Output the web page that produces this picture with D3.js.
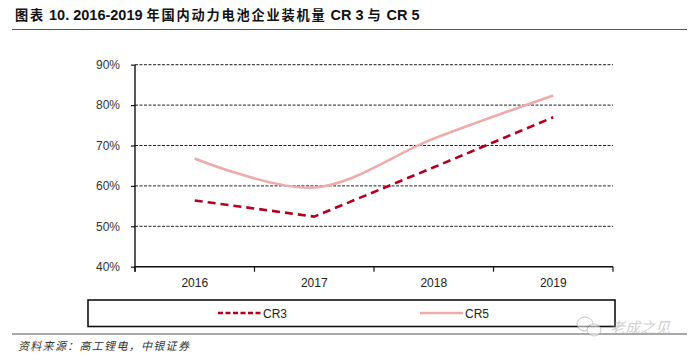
<!DOCTYPE html>
<html><head><meta charset="utf-8">
<script src="https://cdn.jsdelivr.net/npm/d3@7"></script>
<style>body{margin:0;background:#fff}svg{display:block}</style>
</head><body>
<svg id="c" width="700" height="359"></svg>
<script>
const categories = ["2016", "2017", "2018", "2019"];
const cr3 = [56.4, 52.4, 64.6, 77.0];
const cr5 = [66.8, 59.6, 71.7, 82.4];
const yTicks = [40, 50, 60, 70, 80, 90];
const seriesNames = ["CR3", "CR5"];
const titleParts = [["图表", 0], [" 10. 2016-2019 ", 1], ["年国内动力电池企业装机量", 0], [" CR 3 ", 1], ["与", 0], [" CR 5", 1]];
const sourceText = "资料来源：高工锂电，中银证券";

const svg = d3.select("#c");
const L = 135, R = 613, T = 64.7, B = 266.7;
const x = d3.scaleBand().domain(categories).range([L, R]);
const y = d3.scaleLinear().domain([40, 90]).range([B, T]);
const font = "'Liberation Sans', Arial, sans-serif";
const cjk = "'Noto Sans CJK SC', sans-serif";

// title
const tt = svg.append("text").attr("x", 15).attr("y", 20).attr("font-weight", "bold").attr("fill", "#111");
titleParts.forEach(([s, latin]) => {
  tt.append("tspan").attr("font-family", latin ? "'Liberation Sans Narrow', 'Liberation Sans', sans-serif" : cjk)
    .attr("font-size", latin ? 14.5 : 13.2).attr("letter-spacing", latin ? 0 : 1.8)
    .style("white-space", "pre").text(s);
});
svg.append("line").attr("x1", 12).attr("x2", 687).attr("y1", 29.5).attr("y2", 29.5).attr("stroke", "#555").attr("stroke-width", 1.2);

// gridlines
svg.append("g").selectAll("line").data(yTicks.filter(d => d > 40)).join("line")
  .attr("x1", L).attr("x2", R).attr("y1", d => y(d)).attr("y2", d => y(d))
  .attr("stroke", "#222").attr("stroke-width", 1).attr("stroke-dasharray", "3,1.5");

// y axis
const ya = svg.append("g").attr("transform", `translate(${L},0)`)
  .call(d3.axisLeft(y).tickValues(yTicks).tickFormat(d => d + "%").tickSize(4).tickPadding(11));
ya.select(".domain").attr("d", `M0,${T}V${B + 5}`).attr("stroke", "#111").attr("stroke-width", 1.4);
ya.selectAll(".tick line").attr("stroke", "#111").attr("stroke-width", 1.2);
ya.selectAll("text").attr("font-family", font).attr("font-size", 12).attr("fill", "#333");

// x axis
const xa = svg.append("g").attr("transform", `translate(0,${B})`)
  .call(d3.axisBottom(x).tickSize(0).tickPadding(12));
xa.select(".domain").attr("d", `M${L},0H${R}`).attr("stroke", "#111").attr("stroke-width", 1.4);
xa.selectAll("text").attr("font-family", font).attr("font-size", 12).attr("fill", "#222");
const bounds = categories.map(c => x(c)).concat([R]);
xa.append("g").selectAll("line").data(bounds).join("line")
  .attr("x1", d => d).attr("x2", d => d).attr("y1", 0).attr("y2", 5)
  .attr("stroke", "#111").attr("stroke-width", 1.2);

const cx = c => x(c) + x.bandwidth() / 2;
// CR5 smooth
svg.append("path").datum(cr5).attr("fill", "none").attr("stroke", "#EFAAAA").attr("stroke-width", 2.6)
  .attr("d", d3.line().x((d, i) => cx(categories[i])).y(d => y(d)).curve(d3.curveCatmullRom.alpha(0.5)));
// CR3 dashed
svg.append("path").datum(cr3).attr("fill", "none").attr("stroke", "#B2001E").attr("stroke-width", 2.6)
  .attr("stroke-dasharray", "8,5")
  .attr("d", d3.line().x((d, i) => cx(categories[i])).y(d => y(d)));

// legend
svg.append("rect").attr("x", 88).attr("y", 300).attr("width", 527).attr("height", 26.5)
  .attr("fill", "none").attr("stroke", "#111").attr("stroke-width", 1.6);
const leg = [{x1: 218, name: seriesNames[0], color: "#B2001E", dash: "5,2.5"},
             {x1: 420, name: seriesNames[1], color: "#EFAAAA", dash: null}];
leg.forEach(l => {
  svg.append("line").attr("x1", l.x1).attr("x2", l.x1 + 43).attr("y1", 313).attr("y2", 313)
    .attr("stroke", l.color).attr("stroke-width", 2.6).attr("stroke-dasharray", l.dash);
  svg.append("text").attr("x", l.x1 + 45).attr("y", 317.5).attr("font-family", font).attr("font-size", 12)
    .attr("fill", "#222").text(l.name);
});

// bottom rule and source
svg.append("line").attr("x1", 12).attr("x2", 687).attr("y1", 334).attr("y2", 334).attr("stroke", "#555").attr("stroke-width", 1.2);
svg.append("text").attr("x", 18).attr("y", 350).attr("font-family", cjk)
  .attr("font-style", "italic").attr("font-size", 11).attr("letter-spacing", 1.3).attr("fill", "#333").text(sourceText);

// watermark
const wm = svg.append("g").attr("opacity", 0.55);
wm.append("ellipse").attr("cx", 585).attr("cy", 324).attr("rx", 8).attr("ry", 7).attr("fill", "#fff").attr("stroke", "#999");
wm.append("ellipse").attr("cx", 594).attr("cy", 330).attr("rx", 7).attr("ry", 6).attr("fill", "#fff").attr("stroke", "#999");
wm.append("text").attr("x", 610).attr("y", 333).attr("font-family", cjk)
  .attr("font-size", 15).attr("fill", "#aaa").attr("font-style", "italic").text("老成之见");
</script>
</body></html>
